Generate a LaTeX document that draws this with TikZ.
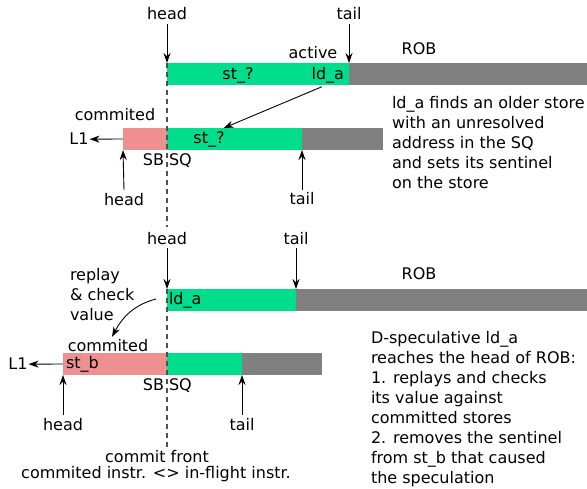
\documentclass[tikz,border=0pt]{standalone}
\usepackage{fontspec}
\setmainfont{DejaVu Sans}
\usetikzlibrary{arrows.meta}
\definecolor{grn}{RGB}{0,221,140}
\definecolor{pnk}{RGB}{238,144,144}
\definecolor{gry}{RGB}{128,128,128}
\definecolor{dsh}{RGB}{80,80,80}
\begin{document}
\begin{tikzpicture}[x=1pt,y=-1pt,
  bar/.style={draw=none,inner sep=0pt,outer sep=0pt,minimum height=22pt,anchor=north west},
  lbl/.style={inner sep=0pt,outer sep=0pt,anchor=base,font=\fontsize{16}{20}\selectfont},
  para/.style={inner sep=0pt,outer sep=0pt,anchor=north west,align=left,font=\fontsize{16}{20}\selectfont},
  arr/.style={-{Stealth[length=10pt,width=7pt]},line width=0.9pt},
  front/.style={draw=dsh,line width=1.1pt,dash pattern=on 5pt off 4pt}]
\useasboundingbox (0,0) rectangle (587,489);
% bars
\node[bar,fill=grn,minimum width=182pt] (r1g) at (167,63) {};
\node[bar,fill=gry,minimum width=238pt] (r1y) at (349,63) {};
\node[bar,fill=pnk,minimum width=44pt] (s1p) at (123,128) {};
\node[bar,fill=grn,minimum width=135pt] (s1g) at (167,128) {};
\node[bar,fill=gry,minimum width=81pt] (s1y) at (302,128) {};
\node[bar,fill=grn,minimum width=129pt] (r2g) at (167,289) {};
\node[bar,fill=gry,minimum width=291pt] (r2y) at (296,289) {};
\node[bar,fill=pnk,minimum width=104pt] (s2p) at (63,353) {};
\node[bar,fill=grn,minimum width=75pt] (s2g) at (167,353) {};
\node[bar,fill=gry,minimum width=80pt] (s2y) at (242,353) {};
% top half labels
\node[lbl] (h1) at (167,20) {head};
\node[lbl] (t1) at (349,20) {tail};
\node[lbl] (act) at (313,59) {active};
\node[lbl] (rob1) at (419,55) {ROB};
\node[lbl] (st1) at (238,80) {st\_?};
\node[lbl,anchor=base east] (lda1) at (344,80) {ld\_a};
\node[lbl] (com1) at (115,121) {commited};
\node[lbl] (l1a) at (79,145) {L1};
\node[lbl] (st2) at (209,144) {st\_?};
\node[lbl,anchor=base east] (sb1) at (164,166) {SB};
\node[lbl,anchor=base west] (sq1) at (169,166) {SQ};
\node[lbl] (h2) at (124,206) {head};
\node[lbl] (t2) at (302,205) {tail};
\node[para] (txt1) at (392,96) {ld\_a finds an older store\\with an unresolved\\address in the SQ\\and sets its sentinel\\on the store};
% bottom half labels
\node[lbl] (h3) at (167,245) {head};
\node[lbl] (t3) at (296,245) {tail};
\node[lbl] (rob2) at (419,280) {ROB};
\node[lbl,anchor=base west] (lda2) at (169,305) {ld\_a};
\node[para] (rep) at (70,268) {replay\\\& check\\value};
\node[lbl] (com2) at (108,352) {commited};
\node[lbl,anchor=base west] (stb) at (66,369) {st\_b};
\node[lbl] (l1b) at (18,370) {L1};
\node[lbl,anchor=base east] (sb2) at (164,391) {SB};
\node[lbl,anchor=base west] (sq2) at (169,391) {SQ};
\node[lbl] (h4) at (63,431) {head};
\node[lbl] (t4) at (242,431) {tail};
\node[lbl] (cf) at (157,462) {commit front};
\node[lbl] (ci) at (156,478) {commited instr. <> in-flight instr.};
\node[para] (txt2) at (371,331) {D-speculative ld\_a\\reaches the head of ROB:\\1. replays and checks\\its value against\\committed stores\\2. removes the sentinel\\from st\_b that caused\\the speculation};
% commit front
\draw[front] (r1g.north west) -- ([yshift=6pt]r1g.north west |- h3.north);
\draw[front] (r2g.north west) -- (r2g.north west |- cf.north);
% arrows top
\draw[arr] ([yshift=-4pt]h1.south) -- (r1g.north west);
\draw[arr] ([yshift=-4pt]t1.south) -- (r1y.north west);
\draw[arr] ([xshift=-6pt,yshift=-3pt]lda1.south) -- ([xshift=-1pt,yshift=4pt]st2.north east);
\draw[arr,shorten >=1pt] (s1p.west) -- (l1a.east);
\draw[arr] ([yshift=4pt]h2.north) -- (s1p.south west);
\draw[arr] ([yshift=3pt]t2.north) -- (s1y.south west);
% arrows bottom
\draw[arr] ([yshift=-3pt]h3.south) -- (r2g.north west);
\draw[arr] ([yshift=-3pt]t3.south) -- (r2y.north west);
\coordinate (cstart) at (156,299);
\draw[arr] (cstart) to[out=195,in=62] ([xshift=4pt,yshift=3pt]com2.north);
\draw[arr,shorten >=1pt] (s2p.west) -- (l1b.east);
\draw[arr] ([yshift=4pt]h4.north) -- (s2p.south west);
\draw[arr] ([yshift=4pt]t4.north) -- (s2y.south west);
\end{tikzpicture}
\end{document}
